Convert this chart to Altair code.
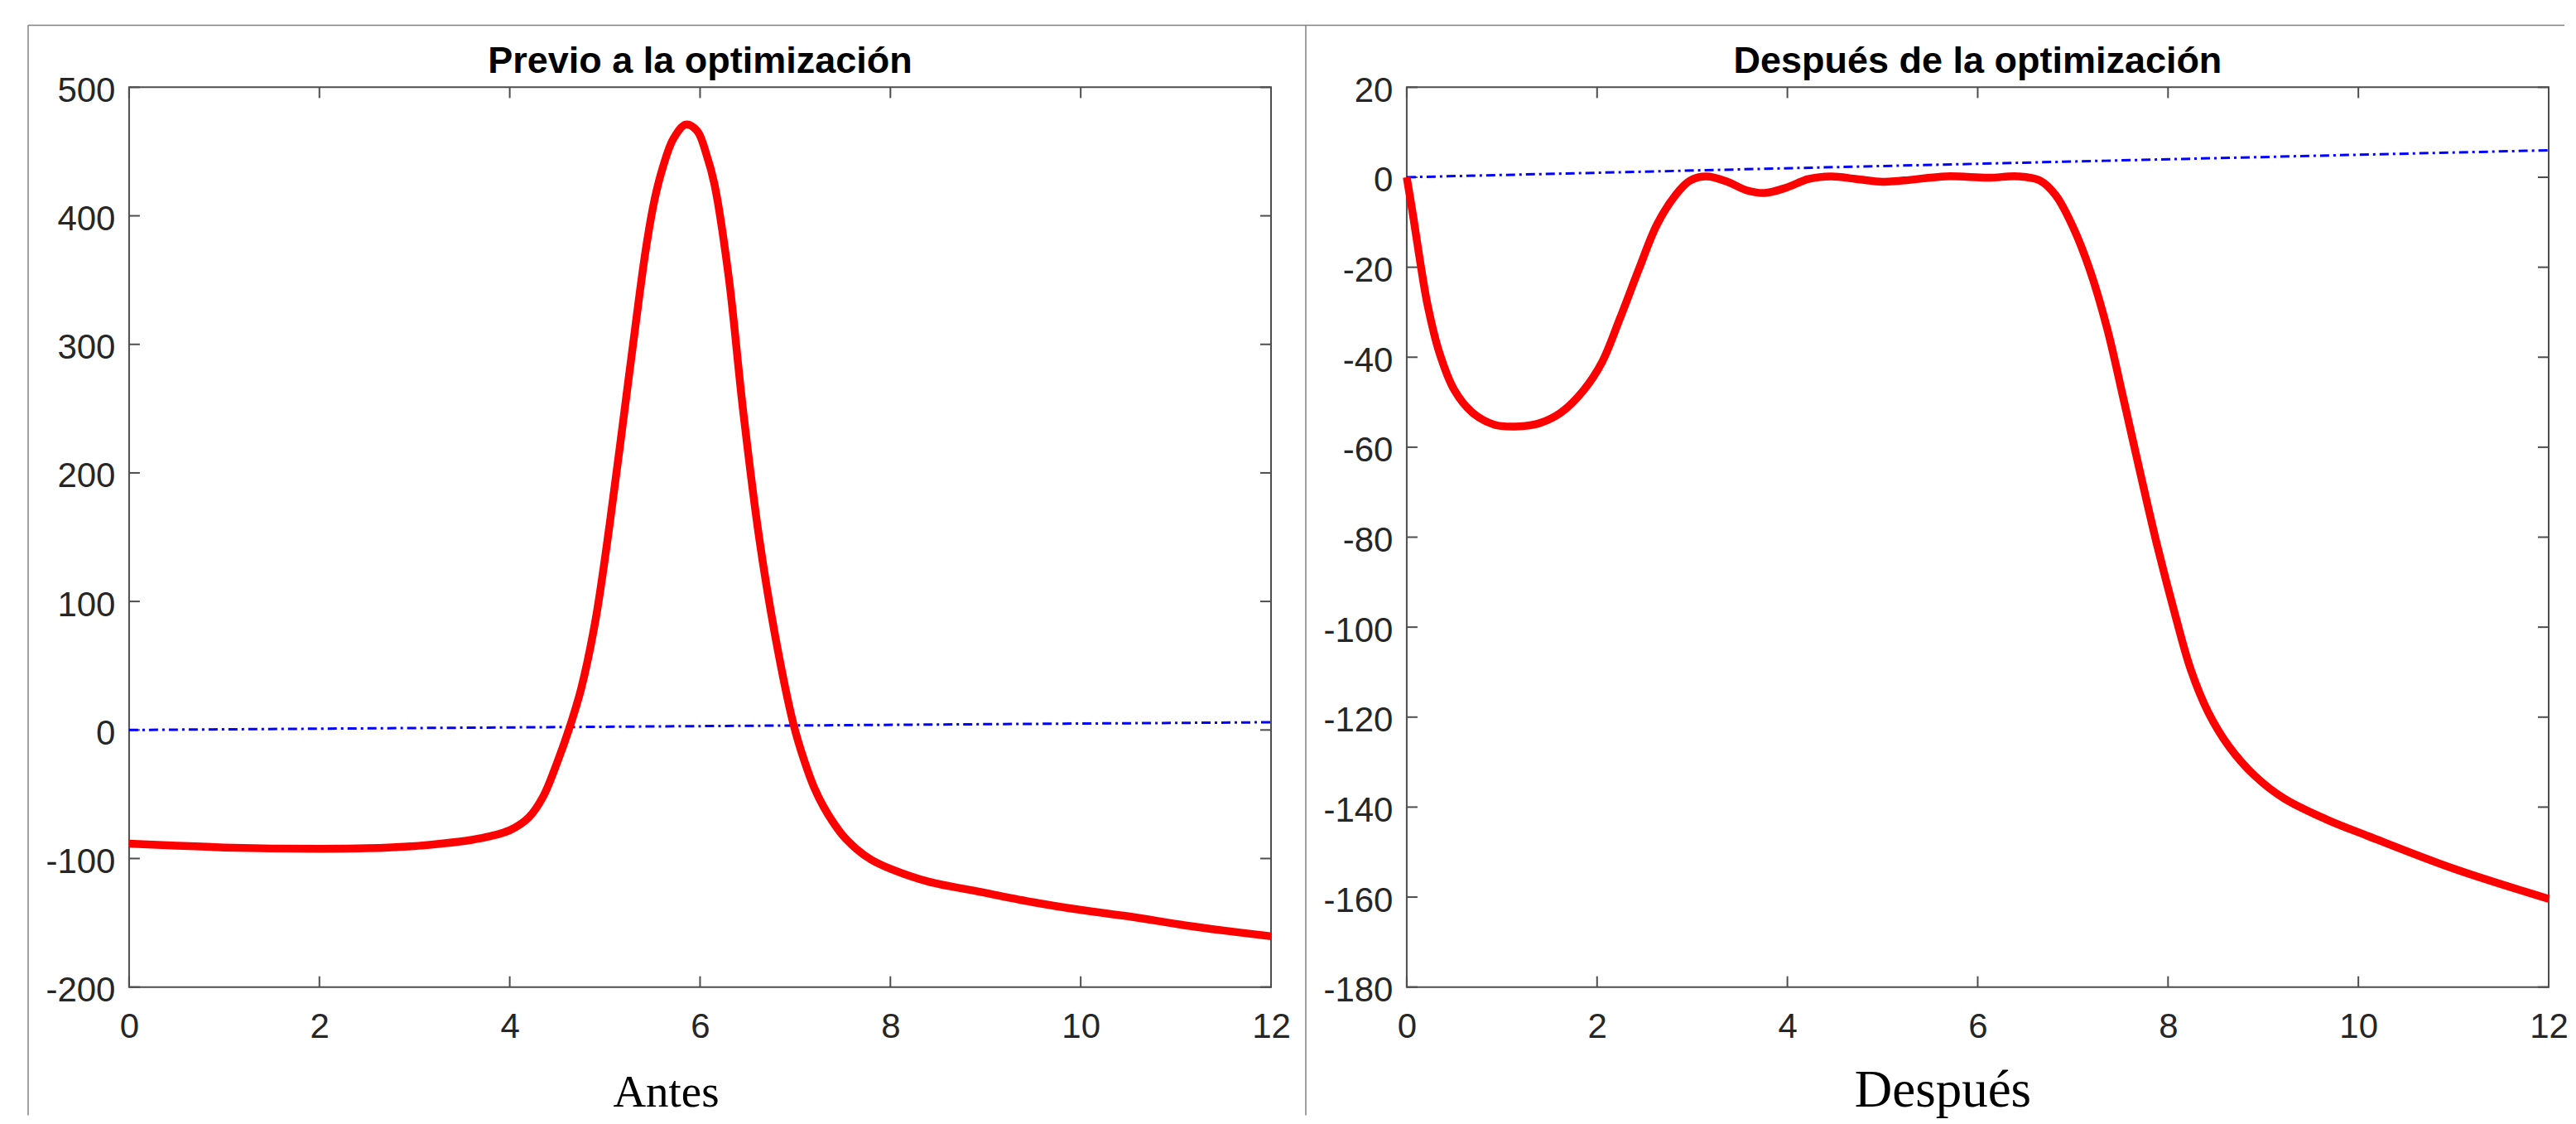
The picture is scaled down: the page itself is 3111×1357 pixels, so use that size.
import altair as alt
import pandas as pd

# ---------------- data ----------------
x_ticks = [0, 2, 4, 6, 8, 10, 12]
left_y_ticks = [-200, -100, 0, 100, 200, 300, 400, 500]
right_y_ticks = [-180, -160, -140, -120, -100, -80, -60, -40, -20, 0, 20]

left_title = "Previo a la optimización"
right_title = "Después de la optimización"
left_caption = "Antes"
right_caption = "Después"

# reference ramp (blue dash-dot), same in both panels
ref_x = [0, 12]
ref_y = [0, 6]

# "before" response (red)
left_red_x = [0.0, 0.5, 1.0, 1.5, 2.0, 2.5, 3.0, 3.3, 3.6, 3.8, 4.0, 4.2, 4.35, 4.5,
              4.62, 4.75, 4.9, 5.05, 5.2, 5.35, 5.43, 5.52, 5.61, 5.72, 5.85, 5.97,
              6.07, 6.15, 6.3, 6.45, 6.62, 6.79, 6.98, 7.1, 7.2, 7.3, 7.4, 7.5, 7.65,
              7.8, 8.0, 8.4, 8.95, 9.5, 10.0, 10.5, 11.1, 11.5, 12.0]
left_red_y = [-88.4, -90.0, -91.4, -92.2, -92.4, -92.0, -90.3, -88.3, -85.5, -82.5, -78.0,
              -68.0, -52.0, -25.0, 0.0, 32.0, 85.0, 160.0, 245.0, 331.0, 374.0, 412.0,
              438.0, 460.0, 471.0, 466.0, 447.0, 425.0, 353.0, 250.0, 150.0, 73.0, 5.0,
              -25.0, -45.0, -60.0, -72.0, -82.0, -93.0, -101.0, -108.0, -118.0, -126.0,
              -134.0, -140.0, -145.0, -152.0, -156.0, -160.5]

# "after" response (red)
right_red_x = [0.0, 0.07, 0.15, 0.22, 0.34, 0.5, 0.69, 0.92, 1.14, 1.39, 1.62, 1.86, 2.05,
               2.24, 2.44, 2.63, 2.83, 2.98, 3.15, 3.37, 3.57, 3.76, 3.99, 4.22, 4.46,
               4.73, 5.0, 5.23, 5.67, 6.11, 6.42, 6.65, 6.82, 7.0, 7.18, 7.36, 7.53,
               7.71, 7.89, 8.07, 8.24, 8.42, 8.64, 8.91, 9.22, 9.66, 10.11, 10.99, 12.0]
right_red_y = [0.0, -9.0, -20.0, -28.5, -38.8, -47.3, -52.3, -55.0, -55.4, -54.7, -52.3,
               -47.3, -41.2, -31.4, -20.4, -10.5, -3.8, -0.7, 0.2, -1.0, -2.9, -3.5, -2.3,
               -0.4, 0.2, -0.4, -1.0, -0.7, 0.2, -0.1, 0.2, -0.7, -4.0, -11.0, -20.7,
               -33.6, -49.1, -65.9, -82.2, -96.9, -109.5, -118.8, -126.5, -133.0, -138.1,
               -142.7, -146.5, -153.6, -160.4]

# ---------------- styling ----------------
W, H = 1380, 1087
TICK_LEN = 13
AXIS_COLOR = "#4d4d4d"
LABEL_COLOR = "#262626"
FRAME_COLOR = "#808080"
SANS = "Liberation Sans"
SERIF = "Liberation Serif"

one_row = pd.DataFrame({"k": [0]})


def panel(red_x, red_y, y_ticks, title, caption, caption_size, caption_x, with_frame):
    xs = alt.Scale(domain=[x_ticks[0], x_ticks[-1]], nice=False, zero=False)
    ys = alt.Scale(domain=[y_ticks[0], y_ticks[-1]], nice=False, zero=False)
    xaxis = alt.Axis(values=x_ticks, title=None, grid=False, domain=False, ticks=False,
                     tickSize=0, labelPadding=28, labelFlush=False, labelOverlap=False,
                     labelFont=SANS, labelFontSize=42, labelColor=LABEL_COLOR, format="d")
    yaxis = alt.Axis(values=y_ticks, title=None, grid=False, domain=False, ticks=False,
                     tickSize=0, labelPadding=17, labelFlush=False, labelOverlap=False,
                     labelOffset=4, labelFont=SANS, labelFontSize=42, labelColor=LABEL_COLOR,
                     labelExpr="datum.value < 0 ? '-' + toString(-datum.value) : toString(datum.value)")
    X = alt.X("x:Q", scale=xs, axis=xaxis)
    Y = alt.Y("y:Q", scale=ys, axis=yaxis)

    red_df = pd.DataFrame({"x": red_x, "y": red_y})
    ref_df = pd.DataFrame({"x": ref_x, "y": ref_y})
    xt_df = pd.DataFrame({"x": x_ticks})
    yt_df = pd.DataFrame({"y": y_ticks})

    tick = dict(color=AXIS_COLOR, strokeWidth=2)
    xt_bottom = alt.Chart(xt_df).mark_rule(**tick).encode(
        x=X, y=alt.value(H), y2=alt.value(H - TICK_LEN))
    xt_top = alt.Chart(xt_df).mark_rule(**tick).encode(
        x=X, y=alt.value(0), y2=alt.value(TICK_LEN))
    yt_left = alt.Chart(yt_df).mark_rule(**tick).encode(
        y=Y, x=alt.value(0), x2=alt.value(TICK_LEN))
    yt_right = alt.Chart(yt_df).mark_rule(**tick).encode(
        y=Y, x=alt.value(W), x2=alt.value(W - TICK_LEN))

    ref = alt.Chart(ref_df).mark_line(color="#0000FF", strokeWidth=3,
                                      strokeDash=[11, 5, 3, 5]).encode(x=X, y=Y)
    red = alt.Chart(red_df).mark_line(color="#FF0000", strokeWidth=9.5,
                                      interpolate="catmull-rom").encode(x=X, y=Y)

    title_t = alt.Chart(one_row).mark_text(
        text=title, font=SANS, fontSize=45, fontWeight="bold", color="black",
        align="center", baseline="alphabetic").encode(x=alt.value(W / 2), y=alt.value(-17))
    caption_t = alt.Chart(one_row).mark_text(
        text=caption, font=SERIF, fontSize=caption_size, color="black",
        align="center", baseline="alphabetic").encode(x=alt.value(caption_x), y=alt.value(1231))

    layers = [xt_bottom, xt_top, yt_left, yt_right, ref, red, title_t, caption_t]

    if with_frame:
        fr = dict(color=FRAME_COLOR, strokeWidth=1.5)
        layers += [
            alt.Chart(one_row).mark_rule(**fr).encode(
                x=alt.value(-122), x2=alt.value(2943), y=alt.value(-75)),
            alt.Chart(one_row).mark_rule(**fr).encode(
                x=alt.value(-122), y=alt.value(-75), y2=alt.value(1242)),
            alt.Chart(one_row).mark_rule(**fr).encode(
                x=alt.value(1422), y=alt.value(-75), y2=alt.value(1242)),
        ]
    return alt.layer(*layers).properties(width=W, height=H)


left = panel(left_red_x, left_red_y, left_y_ticks, left_title, left_caption, 55, 649, True)
right = panel(right_red_x, right_red_y, right_y_ticks, right_title, right_caption, 63, 648, False)

chart = alt.hconcat(left, right, spacing=164, bounds="flush").properties(
    padding={"left": 24, "top": 20, "right": 0, "bottom": 0},
    background="white",
).configure_view(stroke=AXIS_COLOR, strokeWidth=2)

chart.save("out.html", embed_options={"renderer": "svg", "actions": False})
